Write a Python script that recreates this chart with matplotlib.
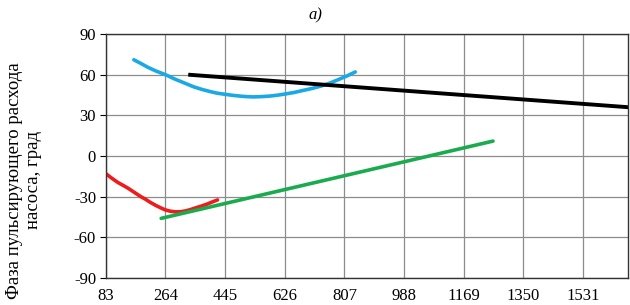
import numpy as np
import matplotlib.pyplot as plt

plt.rcParams['font.family'] = ['Liberation Serif', 'DejaVu Serif']
plt.rcParams['axes.unicode_minus'] = False

# x ticks (frequency axis) and y ticks
x_ticks = [83, 264, 445, 626, 807, 988, 1169, 1350, 1531]
y_ticks = [-90, -60, -30, 0, 30, 60, 90]

# curves
blue_x = [168, 190, 210, 235, 264, 290, 310, 330, 350, 375, 400, 420, 445, 470, 490, 510,
          530, 555, 580, 605, 626, 655, 680, 710, 736, 765, 790, 815, 840]
blue_y = [71, 68.2, 65.5, 62.7, 60, 57, 55, 53, 51, 49.1, 47.5, 46.4, 45.5, 44.7, 44.2, 43.8,
          43.6, 43.8, 44.2, 44.9, 45.7, 46.9, 48.3, 49.9, 51.6, 54, 56.5, 59.1, 62]

black_x = [333, 1668]
black_y = [60, 36]

red_x = [83, 100, 120, 135, 150, 165, 180, 190, 202, 218, 235, 250, 263, 278, 294, 310,
         325, 340, 355, 372, 390, 405, 422]
red_y = [-13, -16.2, -19.6, -21.6, -23.7, -26.1, -28.5, -30.1, -31.7, -34.2, -36.5, -38.3,
         -39.7, -40.7, -41.2, -41.1, -40.5, -39.5, -38.3, -37, -35.5, -34, -32.4]

green_x = [251, 1258]
green_y = [-46, 11]

fig = plt.figure(figsize=(6.3, 3.05), dpi=100)
ax = fig.add_axes([0.168, 0.0885, 0.829, 0.80])

ax.plot(blue_x, blue_y, color='#1ba9e6', lw=2.6, solid_capstyle='round')
ax.plot(black_x, black_y, color='black', lw=2.8, solid_capstyle='butt')
ax.plot(red_x, red_y, color='#ee1c1c', lw=2.6, solid_capstyle='round')
ax.plot(green_x, green_y, color='#1aab4f', lw=2.6, solid_capstyle='round')

ax.set_xlim(83, 1668)
ax.set_ylim(-90, 90)
ax.set_xticks(x_ticks)
ax.set_yticks(y_ticks)
ax.grid(True, color='#8c8c8c', lw=0.9)
ax.set_axisbelow(True)
ax.tick_params(axis='x', length=0, labelsize=12, pad=7)
ax.tick_params(axis='y', length=4, direction='out', labelsize=12, pad=3)
for s in ax.spines.values():
    s.set_color('#333333')
    s.set_linewidth(1.0)

ax.set_ylabel('Фаза пульсирующего расхода\nнасоса, град', fontsize=13.5,
              linespacing=1.2)
ax.yaxis.set_label_coords(-0.122, 0.40)
fig.text(0.5, 0.95, 'a)', style='italic', fontsize=12, ha='center', va='center')

fig.savefig('out.png', dpi=100)
